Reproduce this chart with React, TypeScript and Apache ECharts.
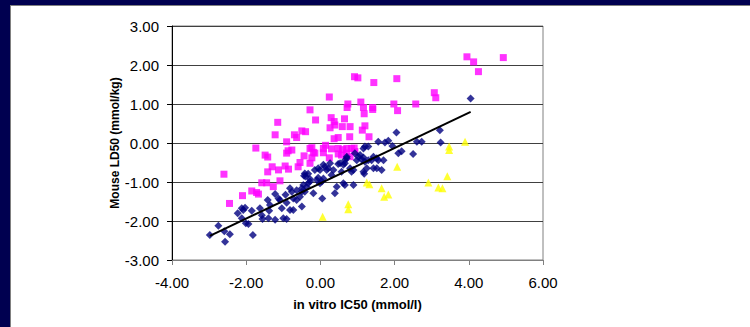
import React, { useEffect, useRef } from "react";
import * as echarts from "echarts";

const xTicks = [-4, -2, 0, 2, 4, 6];
const yTicks = [-3, -2, -1, 0, 1, 2, 3];
const xTitle = "in vitro IC50 (mmol/l)";
const yTitle = "Mouse LD50 (mmol/kg)";

const navyPoints: [number, number][] = [
  [-2.98, -2.36], [-2.75, -2.12], [-2.57, -2.53], [-2.59, -2.26], [-2.44, -2.34],
  [-2.23, -1.8], [-2.12, -1.67], [-2.08, -1.72], [-2.03, -1.66], [-2.12, -1.93],
  [-2.01, -2.06], [-1.94, -2.08], [-1.82, -2.36], [-1.85, -1.74], [-1.63, -1.67],
  [-1.58, -1.85], [-1.56, -1.95], [-1.4, -1.93], [-1.42, -1.46], [-1.36, -1.59],
  [-1.38, -1.74], [-1.22, -1.31], [-1.13, -1.42], [-1.09, -1.46], [-1.04, -1.67],
  [-1.22, -1.97], [-1.0, -1.93], [-0.91, -1.95], [-0.94, -1.33], [-0.82, -1.16],
  [-0.77, -1.25], [-0.91, -1.53], [-0.82, -1.72], [-0.73, -1.72], [-0.73, -1.42],
  [-0.64, -1.46], [-0.55, -1.38], [-0.5, -1.63], [-0.64, -1.21], [-0.5, -1.16],
  [-0.42, -1.25], [-0.37, -1.12], [-0.33, -1.03], [-0.28, -0.99], [-0.4, -0.86],
  [-0.33, -0.79], [-0.42, -0.78], [-0.19, -1.29], [-0.1, -0.95], [-0.06, -0.89],
  [-0.01, -1.03], [0.04, -0.99], [0.08, -0.91], [0.05, -1.42], [-0.15, -0.69],
  [-0.06, -0.65], [-0.01, -0.69], [0.08, -0.56], [0.12, -0.61], [0.17, -0.69],
  [0.21, -0.65], [0.3, -0.82], [0.39, -1.29], [0.44, -1.12], [0.26, -0.52],
  [0.35, -0.69], [0.48, -0.54], [0.53, -0.52], [0.62, -0.56], [0.66, -0.52],
  [0.57, -0.74], [0.62, -1.03], [0.66, -1.08], [0.84, -0.74], [0.89, -0.69],
  [0.89, -1.08], [0.93, -0.26], [1.02, -0.35], [1.07, -0.31], [1.16, -0.37],
  [1.16, -0.74], [1.18, -0.79], [1.25, -0.65], [1.29, -0.44], [1.38, -0.44],
  [1.43, -0.65], [1.52, -0.65], [1.56, -0.44], [1.65, -0.69], [1.7, -0.44],
  [2.1, -0.26], [2.19, -0.21], [2.5, -0.28], [2.05, 0.27], [1.56, 0.03],
  [1.74, 0.01], [1.83, 0.06], [1.94, -0.08], [1.29, -0.09], [1.2, -0.09],
  [1.16, -0.14], [2.6, 0.03], [2.73, 0.03], [3.22, 0.33], [3.24, 0.01],
  [4.05, 1.14], [0.71, -0.35], [0.66, -0.44], [0.98, -0.44], [1.11, -0.42],
  [1.2, -0.48], [1.43, -0.35], [1.52, -0.39], [0.8, -0.65], [0.71, -0.39],
  [-0.44, -0.84], [-0.28, -0.92], [-0.46, -1.08], [-0.5, -1.25],
];

const magentaPoints: [number, number][] = [
  [-1.74, -0.13], [-1.15, 0.53], [-1.22, 0.21], [-0.91, 0.03], [-1.42, -0.36],
  [-1.3, -0.61], [-0.7, 0.21], [-0.64, 0.14], [-0.5, 0.31], [-0.4, 0.29],
  [-0.87, -0.2], [-0.77, -0.18], [-0.44, -0.33], [-0.55, -0.5], [-0.6, -0.61],
  [-0.28, 0.85], [-0.13, 0.59], [-0.28, -0.14], [-0.19, -0.24], [-0.15, -0.26],
  [-0.23, -0.38], [-0.28, -0.52], [0.24, 1.18], [0.29, 0.65], [0.37, 0.55],
  [0.39, 0.46], [0.26, 0.39], [0.37, 0.11], [0.48, 0.14], [0.08, -0.14],
  [0.14, -0.06], [0.08, -0.25], [0.3, -0.15], [0.48, -0.14], [0.6, -0.17],
  [0.71, -0.14], [0.84, -0.14], [0.91, -0.13], [0.24, -0.38], [0.57, -0.31],
  [0.65, 0.62], [0.59, 0.42], [0.8, 0.42], [0.74, 1.0], [0.72, 0.91],
  [0.79, 0.16], [0.92, 1.7], [1.01, 1.67], [1.09, 1.05], [1.16, 0.91],
  [1.18, 0.75], [1.13, 0.33], [1.2, 0.44], [1.31, 0.16], [1.41, 0.91],
  [1.41, 0.86], [1.44, 1.55], [2.06, 1.65], [1.98, 1.0], [2.08, 0.83],
  [2.57, 1.0], [3.07, 1.29], [3.11, 1.16], [3.95, 2.21], [4.13, 2.08],
  [4.26, 1.83], [4.93, 2.19], [-2.6, -0.8], [-2.1, -1.35], [-2.45, -1.55],
  [-1.85, -1.23], [-1.72, -1.27], [-1.67, -1.31], [-1.58, -1.02], [-1.45, -1.02],
  [-1.27, -1.12], [-1.09, -0.97], [-1.42, -0.74], [-1.13, -0.69], [-0.95, -0.59],
  [-0.86, -0.67], [0.48, -0.28], [0.71, -0.26], [0.8, -0.35], [0.93, -0.22],
  [-1.49, -0.31], [-0.91, -0.26], [-0.23, -0.12],
];

const yellowPoints: [number, number][] = [
  [0.06, -1.89], [0.75, -1.57], [0.75, -1.7], [1.25, -1.01], [1.32, -1.06],
  [1.65, -1.16], [1.72, -1.38], [1.83, -1.32], [2.07, -0.61], [3.47, -0.09],
  [3.47, -0.18], [3.9, 0.03], [3.42, -0.85], [2.91, -1.01], [3.18, -1.14],
  [3.29, -1.16],
];

const trendLine: [number, number][] = [
  [-2.98, -2.38],
  [4.05, 0.8],
];

const FONT = "'Liberation Sans', Arial, sans-serif";

export default function App() {
  const ref = useRef<HTMLDivElement>(null);
  useEffect(() => {
    document.body.style.margin = "0";
    if (!ref.current) return;
    const chart = echarts.init(ref.current, undefined, { renderer: "svg" });
    chart.setOption({
      animation: false,
      grid: {
        left: 172,
        right: 207,
        top: 26,
        bottom: 67,
        show: true,
        borderColor: "#808080",
        borderWidth: 1,
        backgroundColor: "transparent",
      },
      xAxis: {
        type: "value",
        min: xTicks[0],
        max: xTicks[xTicks.length - 1],
        interval: 2,
        name: xTitle,
        nameLocation: "middle",
        nameGap: 38,
        nameTextStyle: { fontFamily: FONT, fontSize: 13, fontWeight: "bold", color: "#000" },
        axisLine: { show: true, onZero: false, lineStyle: { color: "#808080", width: 1 } },
        axisTick: { show: true, length: 5, lineStyle: { color: "#808080" } },
        axisLabel: {
          fontFamily: FONT,
          fontSize: 15,
          color: "#000",
          margin: 15,
          formatter: (v: number) => v.toFixed(2),
        },
        splitLine: { show: false },
      },
      yAxis: {
        type: "value",
        min: yTicks[0],
        max: yTicks[yTicks.length - 1],
        interval: 1,
        name: yTitle,
        nameLocation: "middle",
        nameGap: 22,
        nameTextStyle: { fontFamily: FONT, fontSize: 12, fontWeight: "bold", color: "#000" },
        axisLine: { show: true, onZero: false, lineStyle: { color: "#000", width: 1 } },
        axisTick: { show: true, length: 5, lineStyle: { color: "#000" } },
        axisLabel: {
          fontFamily: FONT,
          fontSize: 15,
          color: "#000",
          margin: 13,
          formatter: (v: number) => v.toFixed(2),
        },
        splitLine: { show: true, lineStyle: { color: "#404040", width: 1 } },
      },
      series: [
        {
          type: "scatter",
          name: "magenta",
          data: magentaPoints,
          symbol: "rect",
          symbolSize: 7,
          itemStyle: { color: "#FF00FF" },
        },
        {
          type: "scatter",
          name: "navy",
          data: navyPoints,
          symbol: "diamond",
          symbolSize: 8,
          itemStyle: { color: "#000080" },
        },
        {
          type: "scatter",
          name: "yellow",
          data: yellowPoints,
          symbol: "triangle",
          symbolSize: 8,
          itemStyle: { color: "#FFFF00" },
        },
        {
          type: "line",
          name: "trend",
          data: trendLine,
          symbol: "none",
          lineStyle: { color: "#000", width: 2 },
        },
      ],
    });
    return () => chart.dispose();
  }, []);

  return (
    <div style={{ position: "relative", width: 750, height: 327, background: "#000050", overflow: "hidden" }}>
      <div
        style={{
          position: "absolute",
          left: 10,
          top: 5,
          width: 740,
          height: 322,
          background: "#ffffff",
          borderLeft: "1px solid #808080",
          borderTop: "1px solid #808080",
          boxSizing: "border-box",
        }}
      />
      <div ref={ref} style={{ position: "absolute", left: 0, top: 0, width: 750, height: 327 }} />
    </div>
  );
}
